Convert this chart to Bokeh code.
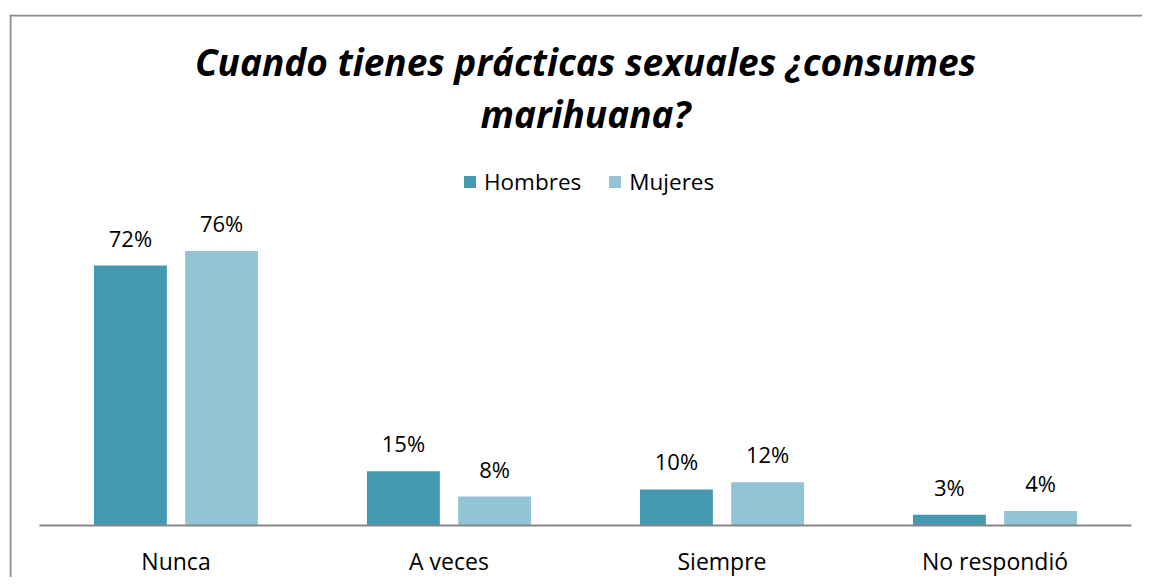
from bokeh.plotting import figure
from bokeh.models import (ColumnDataSource, Range1d, Legend, LegendItem, Label, Span)
from bokeh.transform import dodge
from bokeh.core.properties import value
from bokeh.embed import file_html
from bokeh.resources import INLINE

categories = ["Nunca", "A veces", "Siempre", "No respondió"]
series = ["Hombres", "Mujeres"]
hombres = [72, 15, 10, 3]
mujeres = [76, 8, 12, 4]
title_lines = ["Cuando tienes prácticas sexuales ¿consumes", "marihuana?"]

FONT = "Open Sans"
C_H = "#4399B0"
C_M = "#93C4D5"
C_AX = "#868686"
C_BORDER = "#8c8c8c"

# layout constants (pixels)
W, H = 1142, 577
FRAME_L, FRAME_T = 9, 14
BAND_L, BAND_R = 39, 1131     # extent of the category axis
BASE_Y = 525                  # baseline pixel row
PX_PER_PCT = 3.611

n = len(categories)
XPX = (BAND_R - BAND_L) / n   # pixels per category

src = ColumnDataSource(dict(
    x=[i + 0.5 for i in range(n)], zero=[0] * n, cat=categories,
    h=hombres, m=mujeres,
    hl=[f"{v}%" for v in hombres], ml=[f"{v}%" for v in mujeres]))

x_range = Range1d(-(BAND_L - FRAME_L) / XPX, (W - BAND_L) / XPX)
y_range = Range1d(-(H - BASE_Y) / PX_PER_PCT, (BASE_Y - FRAME_T) / PX_PER_PCT)

p = figure(x_range=x_range, y_range=y_range, width=W, height=H,
           output_backend="svg", toolbar_location=None,
           x_axis_location=None, y_axis_location=None, title=None,
           min_border_left=FRAME_L, min_border_top=FRAME_T,
           min_border_right=0, min_border_bottom=0)
p.outline_line_color = None
p.grid.visible = False
p.background_fill_color = "white"

r1 = p.vbar(x=dodge("x", -0.167), top="h", width=0.267,
            source=src, fill_color=C_H, line_color=None)
r2 = p.vbar(x=dodge("x", 0.167), top="m", width=0.267,
            source=src, fill_color=C_M, line_color=None)

# category baseline
p.segment(x0=0, x1=n, y0=0, y1=0, line_color=C_AX, line_width=2)

# value labels
for xoff, col, lab in [(-0.167, "h", "hl"), (0.167, "m", "ml")]:
    p.text(x=dodge("x", xoff), y=col, text=lab, source=src,
           text_align="center", text_baseline="alphabetic", y_offset=-28,
           text_font=value(FONT), text_font_size="22px", text_color="#000000")

# category labels
p.text(x="x", y="zero", text="cat", source=src,
       text_align="center", text_baseline="alphabetic", y_offset=35,
       text_font=value(FONT), text_font_size="23px", text_color="#000000")

legend = Legend(items=[LegendItem(label=series[0], renderers=[r1]),
                       LegendItem(label=series[1], renderers=[r2])],
                orientation="horizontal", location=(453, 380),
                glyph_width=15, glyph_height=15, label_standoff=7, spacing=26,
                padding=0, margin=0, border_line_color=None,
                background_fill_alpha=0,
                label_text_font=FONT, label_text_font_size="22.5px",
                label_text_color="#000000")
p.add_layout(legend, "center")

for line, base_px in zip(title_lines, [61, 113]):
    p.add_layout(Label(x=n / 2, y=(BASE_Y - base_px) / PX_PER_PCT, text=line,
                       text_align="center", text_baseline="alphabetic",
                       text_font=FONT, text_font_size="37px",
                       text_font_style="bold italic", text_color="#000000"))

# chart-area border (left and top edges visible)
p.add_layout(Span(location=x_range.start + 1 / XPX, dimension="height",
                  line_color=C_BORDER, line_width=2))
p.add_layout(Span(location=y_range.end - 1 / PX_PER_PCT, dimension="width",
                  line_color=C_BORDER, line_width=2))

open("out.html", "w").write(file_html(p, INLINE))
